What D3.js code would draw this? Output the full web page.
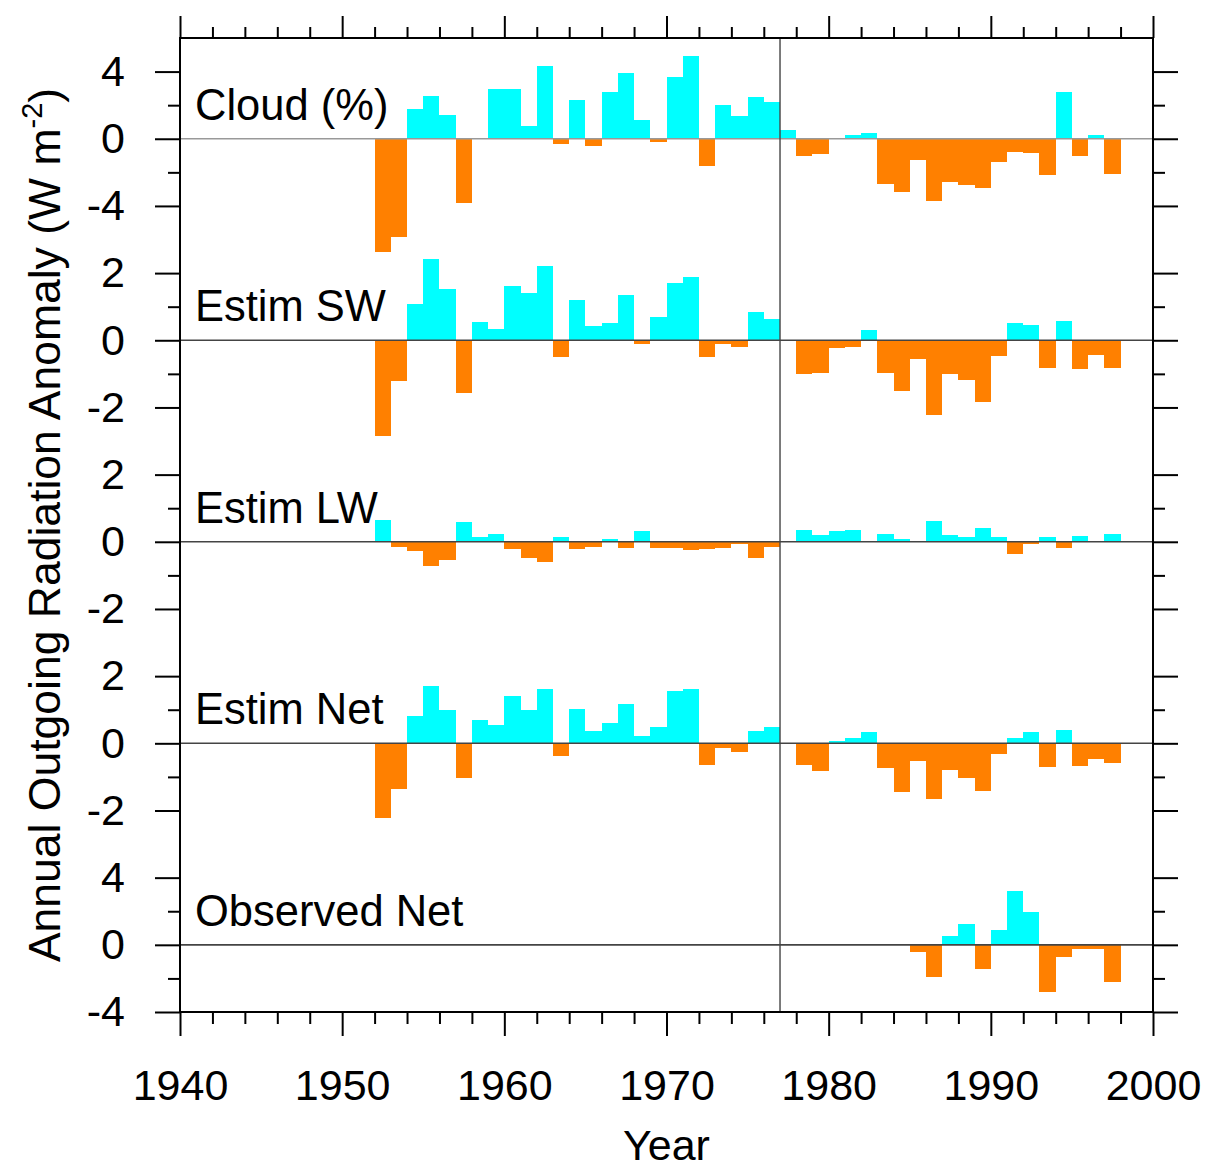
<!DOCTYPE html>
<html>
<head>
<meta charset="utf-8">
<script src="https://cdn.jsdelivr.net/npm/d3@7"></script>
<style>
  html, body { margin: 0; padding: 0; background: #fff; }
  svg { display: block; font-family: "Liberation Sans", Arial, Helvetica, sans-serif; }
</style>
</head>
<body>
<svg id="chart" width="1208" height="1169"></svg>
<script>
// ---- data ----
const years = d3.range(1952, 1998);
const cloud = [-6.76,-5.83,1.79,2.53,1.39,-3.8,0,2.97,2.97,0.74,4.36,-0.32,2.29,-0.46,2.79,3.92,1.09,-0.2,
  3.69,4.94,-1.64,2.0,1.38,2.5,2.2,0.51,-1.03,-0.89,
  0,0.25,0.35,-2.68,-3.15,-1.28,-3.69,-2.58,-2.74,-2.92,
  -1.38,-0.79,-0.85,-2.14,2.8,-1.03,0.21,-2.12];
const estimSW = [-2.84,-1.21,1.07,2.42,1.54,-1.57,0.55,0.35,1.62,1.42,2.22,-0.5,1.21,0.43,0.52,1.34,-0.1,0.68,
  1.72,1.89,-0.5,-0.1,-0.2,0.83,0.64,0,-1.0,-0.97,
  -0.23,-0.2,0.32,-0.97,-1.51,-0.57,-2.21,-1.0,-1.19,-1.83,
  -0.48,0.52,0.44,-0.82,0.58,-0.87,-0.43,-0.82];
const estimLW = [0.65,-0.15,-0.27,-0.73,-0.53,0.6,0.15,0.24,-0.21,-0.47,-0.6,0.15,-0.21,-0.15,0.08,-0.17,0.32,-0.19,
  -0.17,-0.25,-0.21,-0.17,-0.08,-0.48,-0.15,0,0.35,0.21,
  0.31,0.34,0,0.24,0.08,0,0.61,0.19,0.15,0.4,
  0.15,-0.35,-0.08,0.15,-0.17,0.18,0,0.24];
const estimNet = [-2.23,-1.36,0.81,1.72,1.0,-1.03,0.68,0.56,1.42,1.0,1.62,-0.37,1.03,0.36,0.6,1.18,0.21,0.5,
  1.55,1.61,-0.65,-0.14,-0.27,0.36,0.48,0,-0.65,-0.81,
  0.08,0.15,0.33,-0.73,-1.46,-0.54,-1.66,-0.79,-1.03,-1.43,
  -0.32,0.15,0.33,-0.72,0.41,-0.69,-0.47,-0.58];
const obsYears = d3.range(1985, 1998);
const observedNet = [-0.4,-1.89,0.52,1.27,-1.43,0.9,3.18,1.95,-2.83,-0.7,-0.26,-0.26,-2.19];

const panelNames = ["Cloud (%)", "Estim SW", "Estim LW", "Estim Net", "Observed Net"];
const panelOffsets = [24, 18, 12, 6, 0];      // stacked baseline of each panel (plot units)
const panelFactors = [0.5, 1, 1, 1, 0.5];     // drawing scale of each panel
const majorTickLabels = [[4,0,-4],[2,0,-2],[2,0,-2],[2,0,-2],[4,0,-4]];
const minorTickLabels = [[2,-2],[1,-1],[1,-1],[1,-1],[2,-2]];
const xTicks = [1940,1950,1960,1970,1980,1990,2000];
const breakYear = 1977;

const seriesList = [
  {name: panelNames[0], years: years, values: cloud},
  {name: panelNames[1], years: years, values: estimSW},
  {name: panelNames[2], years: years, values: estimLW},
  {name: panelNames[3], years: years, values: estimNet},
  {name: panelNames[4], years: obsYears, values: observedNet}
];

// ---- layout ----
const L = 180, R = 1153, T = 38, B = 1012;
const svg = d3.select("#chart");
svg.append("rect").attr("width",1208).attr("height",1169).attr("fill","#fff");

const x = d3.scaleLinear().domain([1940, 2000]).range([L, R]);
const y = d3.scaleLinear().domain([-2, 27]).range([B, T]);

const POS = "#00ffff", NEG = "#ff8000";

// bars
seriesList.forEach((s, i) => {
  const off = panelOffsets[i], f = panelFactors[i];
  const data = s.years.map((yr, k) => ({yr, v: s.values[k]}));
  svg.append("g").selectAll("rect").data(data.filter(d => d.v !== 0)).join("rect")
    .attr("x", d => x(d.yr))
    .attr("width", d => x(d.yr + 1) - x(d.yr))
    .attr("y", d => Math.min(y(off), y(off + d.v * f)))
    .attr("height", d => Math.abs(y(off + d.v * f) - y(off)))
    .attr("fill", d => d.v > 0 ? POS : NEG)
    .attr("shape-rendering", "crispEdges");
});

// zero lines
seriesList.forEach((s, i) => {
  svg.append("line")
    .attr("x1", L).attr("x2", R)
    .attr("y1", y(panelOffsets[i])).attr("y2", y(panelOffsets[i]))
    .attr("stroke", i === 0 ? "#999" : "#444").attr("stroke-width", 1.6);
});

// vertical line at break year
svg.append("line")
  .attr("x1", x(breakYear)).attr("x2", x(breakYear))
  .attr("y1", T).attr("y2", B)
  .attr("stroke", "#444").attr("stroke-width", 1.4);

// panel labels
seriesList.forEach((s, i) => {
  svg.append("text")
    .attr("x", 195).attr("y", y(panelOffsets[i]) - 19)
    .attr("font-size", 43.5).attr("fill", "#000")
    .text(s.name);
});

// y ticks
const majorVals = [], majorText = [], minorVals = [];
panelOffsets.forEach((off, i) => {
  majorTickLabels[i].forEach(v => { majorVals.push(off + v * panelFactors[i]); majorText.push(v); });
  minorTickLabels[i].forEach(v => minorVals.push(off + v * panelFactors[i]));
});
const labelMap = new Map(majorVals.map((v, k) => [v, majorText[k]]));

function styleAxis(g) {
  g.select(".domain").remove();
  g.selectAll(".tick line").attr("stroke", "#000").attr("stroke-width", 2);
  g.selectAll(".tick text").attr("font-size", 43).attr("fill", "#000")
    .attr("font-family", "'Liberation Sans', Arial, Helvetica, sans-serif");
}

svg.append("g").attr("transform", `translate(${L},0)`)
  .call(d3.axisLeft(y).tickValues(majorVals).tickSize(25).tickPadding(30).tickFormat(v => labelMap.get(v)))
  .call(styleAxis);
svg.append("g").attr("transform", `translate(${L},0)`)
  .call(d3.axisLeft(y).tickValues(minorVals).tickSize(12).tickFormat(""))
  .call(styleAxis);
svg.append("g").attr("transform", `translate(${R},0)`)
  .call(d3.axisRight(y).tickValues(majorVals).tickSize(25).tickFormat(""))
  .call(styleAxis);
svg.append("g").attr("transform", `translate(${R},0)`)
  .call(d3.axisRight(y).tickValues(minorVals).tickSize(12).tickFormat(""))
  .call(styleAxis);

// x ticks
const xMinor = d3.range(1942, 2000, 2).filter(v => v % 10 !== 0);
svg.append("g").attr("transform", `translate(0,${B})`)
  .call(d3.axisBottom(x).tickValues(xTicks).tickSize(24).tickPadding(33).tickFormat(d3.format("d")))
  .call(styleAxis);
svg.append("g").attr("transform", `translate(0,${B})`)
  .call(d3.axisBottom(x).tickValues(xMinor).tickSize(12).tickFormat(""))
  .call(styleAxis);
svg.append("g").attr("transform", `translate(0,${T})`)
  .call(d3.axisTop(x).tickValues(xTicks).tickSize(22).tickFormat(""))
  .call(styleAxis);
svg.append("g").attr("transform", `translate(0,${T})`)
  .call(d3.axisTop(x).tickValues(xMinor).tickSize(11).tickFormat(""))
  .call(styleAxis);

// frame
svg.append("rect").attr("x", L).attr("y", T).attr("width", R - L).attr("height", B - T)
  .attr("fill", "none").attr("stroke", "#000").attr("stroke-width", 2);

// axis titles
svg.append("text")
  .attr("x", (L + R) / 2).attr("y", 1160)
  .attr("text-anchor", "middle").attr("font-size", 43).text("Year");

const yt = svg.append("text")
  .attr("transform", `translate(60,${(T + B) / 2}) rotate(-90)`)
  .attr("text-anchor", "middle").attr("font-size", 44.5);
yt.append("tspan").text("Annual Outgoing Radiation Anomaly (W m");
yt.append("tspan").attr("font-size", 29).attr("dy", -18).text("-2");
yt.append("tspan").attr("dy", 18).text(")");
</script>
</body>
</html>
